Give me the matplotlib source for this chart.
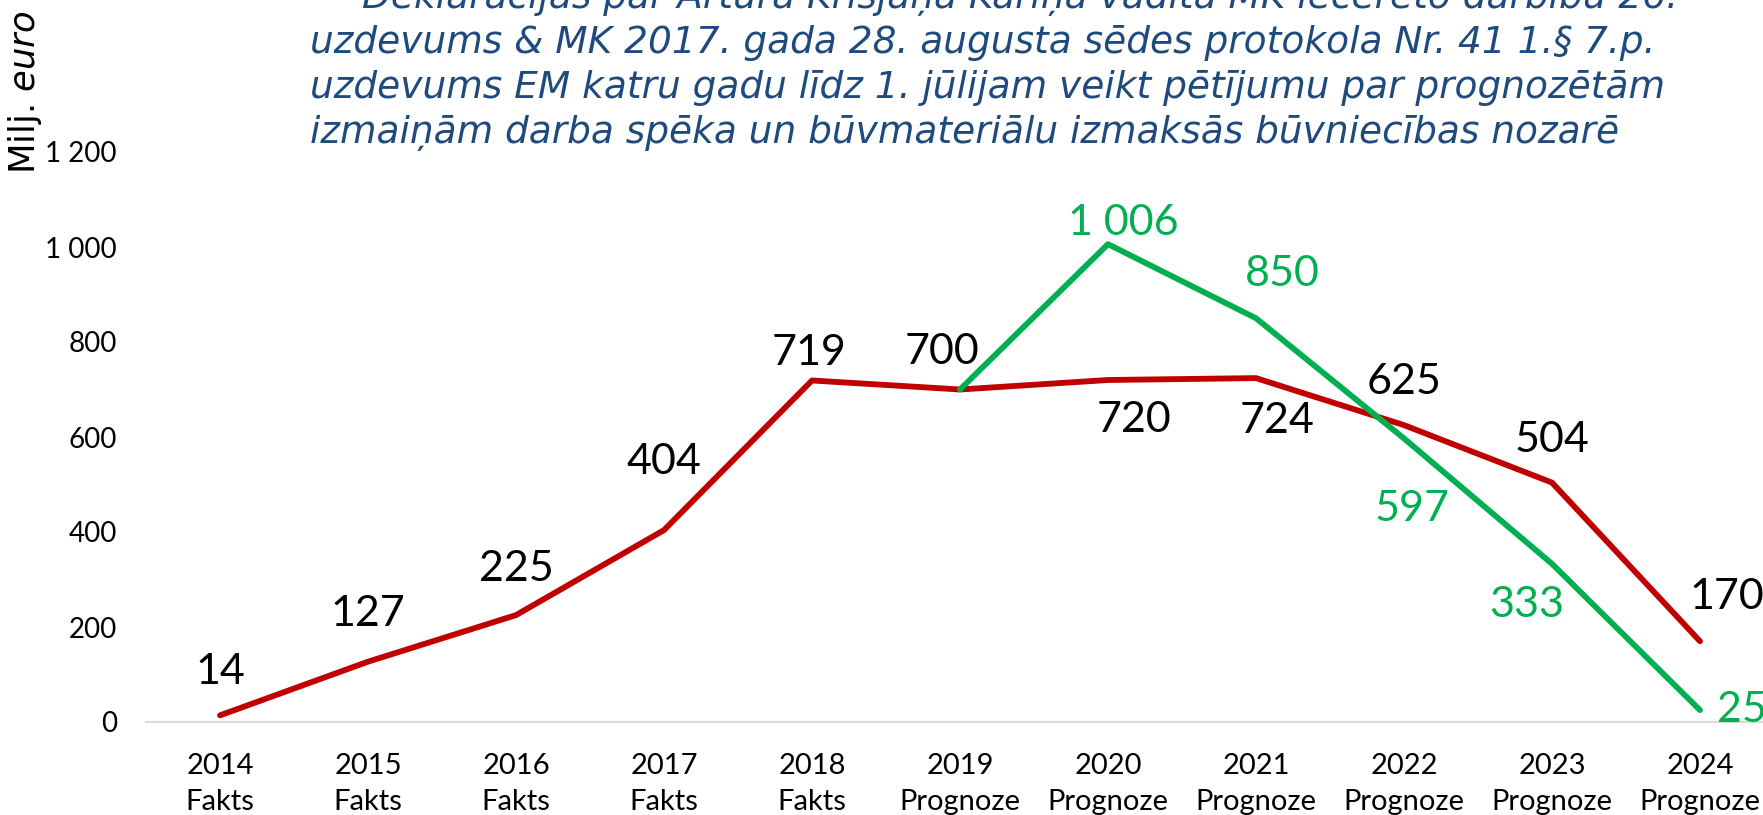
import numpy as np
import matplotlib.pyplot as plt

plt.rcParams['font.family'] = ['Lato', 'DejaVu Sans']

years = ['2014', '2015', '2016', '2017', '2018', '2019', '2020', '2021', '2022', '2023', '2024']
kinds = ['Fakts'] * 5 + ['Prognoze'] * 6
red_vals = [14, 127, 225, 404, 719, 700, 720, 724, 625, 504, 170]
green_vals = [np.nan] * 5 + [700, 1006, 850, 597, 333, 25]
yticks = [0, 200, 400, 600, 800, 1000, 1200]

title_lines = [
    'Deklarācijas par Artūra Krišjāņa Kariņa vadītā MK iecerēto darbību 26.',
    'uzdevums & MK 2017. gada 28. augusta sēdes protokola Nr. 41 1.§ 7.p.',
    'uzdevums EM katru gadu līdz 1. jūlijam veikt pētījumu par prognozētām',
    'izmaiņām darba spēka un būvmateriālu izmaksās būvniecības nozarē',
]

# label offsets (points) for each data label
red_off = [(0, 31), (0, 34), (0, 33), (0, 49), (-2, 20), (-13, 27),
           (19, -29), (15, -31), (0, 31), (0, 31), (19, 32)]
green_off = [None] * 5 + [None, (11, 15), (19, 32), (6, -51), (-18, -30), (30, 0)]

RED = '#C00000'
GREEN = '#00B050'
W, H = 1763, 815


def fmt(v):
    return f'{int(v):,}'.replace(',', ' ')


fig = plt.figure(figsize=(W / 100, H / 100), dpi=100)
ax = fig.add_axes([146 / W, 1 - 722 / H, 1628 / W, 570 / H])

x = np.arange(len(years))
ax.plot(x, red_vals, color=RED, lw=4.2, solid_capstyle='round', solid_joinstyle='round', zorder=3)
ax.plot(x, green_vals, color=GREEN, lw=4.2, solid_capstyle='round', solid_joinstyle='round', zorder=3)

for i, v in enumerate(red_vals):
    ax.annotate(fmt(v), (i, v), xytext=red_off[i], textcoords='offset points',
                ha='center', va='center', fontsize=31, color='black', zorder=4)
for i, v in enumerate(green_vals):
    if green_off[i] is None:
        continue
    ax.annotate(fmt(v), (i, v), xytext=green_off[i], textcoords='offset points',
                ha='center', va='center', fontsize=31, color=GREEN, zorder=4)

ax.set_xlim(-0.5, len(years) - 0.5)
ax.set_ylim(0, 1200)
ax.set_yticks(yticks)
ax.set_yticklabels([fmt(t) for t in yticks])
ax.set_xticks(x)
ax.set_xticklabels([f'{y}\n{k}' for y, k in zip(years, kinds)], linespacing=1.5)
ax.tick_params(axis='both', length=0)
ax.tick_params(axis='y', pad=21, labelsize=20)
ax.tick_params(axis='x', pad=22, labelsize=21)

for s in ['top', 'right', 'left']:
    ax.spines[s].set_visible(False)
ax.spines['bottom'].set_color('#D9D9D9')
ax.spines['bottom'].set_linewidth(1.5)
ax.spines['bottom'].set_zorder(1)

# y axis title
fig.text(25 / W, 1 - 174 / H, r'Milj. $\it{euro}$', rotation=90, ha='center', va='bottom',
         fontsize=25.5, family='DejaVu Sans')

# title lines (first one is cut at the top in the original)
tx = [362, 310, 310, 310]
ty = [8, 53, 98, 143]
for line, xx, yy in zip(title_lines, tx, ty):
    fig.text(xx / W, 1 - yy / H, line, ha='left', va='baseline', fontsize=27,
             family='DejaVu Sans', style='italic', color='#1F4A7D')

fig.savefig('out.png', dpi=100)
